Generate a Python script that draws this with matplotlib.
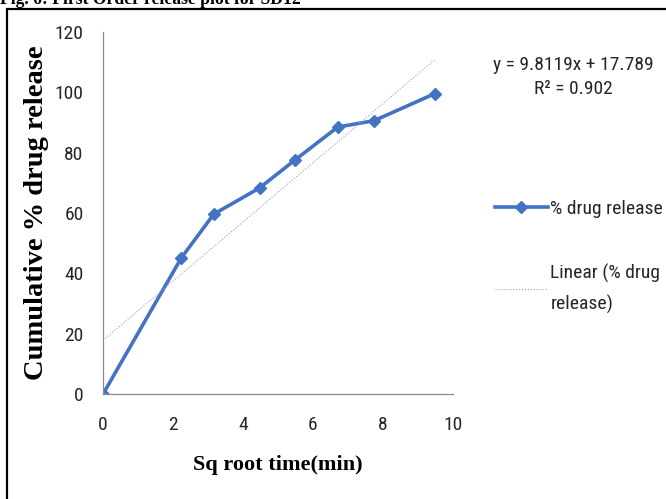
import numpy as np
import matplotlib.pyplot as plt
from matplotlib.patches import Rectangle

# data
time_min = [0, 5, 10, 20, 30, 45, 60, 90]
sq_root_time = np.sqrt(time_min)
drug_release = [0, 45.1, 59.6, 68.3, 77.5, 88.5, 90.6, 99.6]
slope, intercept, r2 = 9.8119, 17.789, 0.902

tick_font = ['Roboto Condensed', 'Liberation Sans Narrow', 'Lato']
label_font = 'Liberation Serif'

fig = plt.figure(figsize=(6.66, 4.99), dpi=100)
ax = fig.add_axes([0.1547, 0.2104, 0.5255, 0.7255])

ax.plot(sq_root_time, drug_release, color='#4472C4', lw=2.6, marker='D',
        markersize=6, label='% drug release')
fit_x = np.array([0, sq_root_time[-1]])
ax.plot(fit_x, slope * fit_x + intercept, color='#a0a0a0', lw=0.8,
        linestyle=':', label='Linear (% drug\nrelease)')

ax.set_xlim(0, 10)
ax.set_ylim(0, 120)
ax.set_xticks(range(0, 11, 2))
ax.set_yticks(range(0, 121, 20))
for s in ['top', 'right']:
    ax.spines[s].set_visible(False)
for s in ['left', 'bottom']:
    ax.spines[s].set_color('#8c8c8c')
    ax.spines[s].set_linewidth(0.9)
ax.tick_params(length=0, labelsize=14, colors='#262626')
ax.tick_params(axis='y', pad=14)
ax.tick_params(axis='x', pad=16)
for lab in ax.get_xticklabels() + ax.get_yticklabels():
    lab.set_family(tick_font)

ax.set_xlabel('Sq root time(min)', family=label_font, fontweight='bold',
              fontsize=16, va='top')
ax.xaxis.set_label_coords(0.5, -0.169)
ax.set_ylabel('Cumulative % drug release', family=label_font,
              fontweight='bold', fontsize=20.5)
ax.yaxis.set_label_coords(-0.155, 0.5)

fig.text(0.861, 0.845, f'y = {slope}x + {intercept}\nR\u00b2 = {r2}',
         ha='center', va='center', fontsize=14, family=tick_font,
         linespacing=1.45, color='#262626')

leg = ax.legend(loc='center left', bbox_to_anchor=(1.07, 0.378),
                frameon=False, prop={'family': tick_font, 'size': 14},
                handlelength=2.7, labelspacing=2.35, handletextpad=0.15)
for t in leg.get_texts():
    t.set_linespacing(1.82)
    t.set_color('#262626')

fig.text(0.0, 0.991, 'Fig. 6: First Order release plot for SD12',
         family=label_font, fontweight='bold', fontsize=12.7, va='baseline')
fig.patches.append(Rectangle((6.5 / 666, -0.1), 1.2, 0.1 + 1 - 9 / 499,
                             transform=fig.transFigure, fill=False,
                             edgecolor='black', lw=1.6))

fig.savefig('out.png', dpi=100)
